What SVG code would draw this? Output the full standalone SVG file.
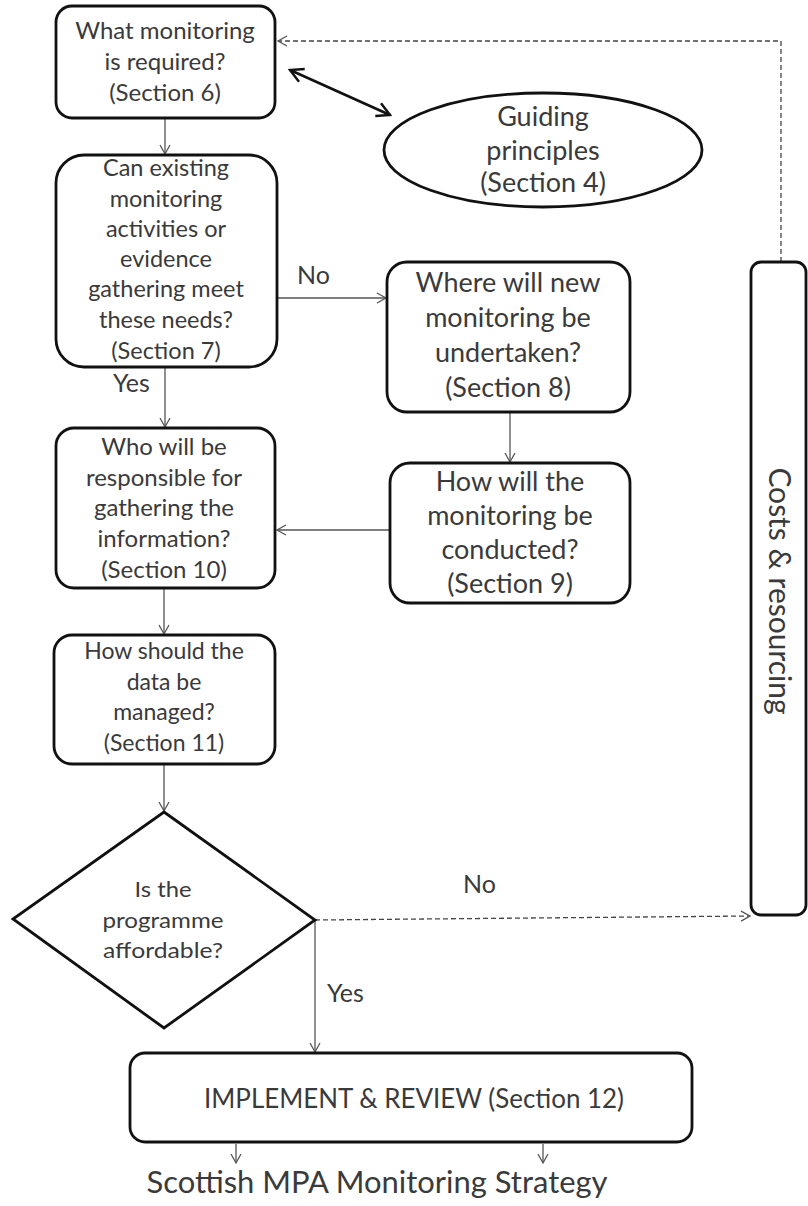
<svg xmlns="http://www.w3.org/2000/svg" width="808" height="1206" viewBox="0 0 808 1206">
<style>
.box{fill:#fff;stroke:#111;stroke-width:2.8}
.t{font-family:Lato,"Open Sans","Liberation Sans",sans-serif;font-size:24px;fill:#3a3a3a;text-anchor:middle}
.tl{font-family:Lato,"Open Sans","Liberation Sans",sans-serif;font-size:25px;fill:#3a3a3a}
.c{fill:none;stroke:#555;stroke-width:1.3}
.d{fill:none;stroke:#444;stroke-width:1.3;stroke-dasharray:5 3}
.b{fill:none;stroke:#111;stroke-width:2.6}
</style>
<defs>
<marker id="ah" markerUnits="userSpaceOnUse" markerWidth="14" markerHeight="14" refX="10" refY="6" orient="auto">
<path d="M1,1 L10,6 L1,11" fill="none" stroke="#555" stroke-width="1.3"/>
</marker>
<marker id="ahb" markerUnits="userSpaceOnUse" markerWidth="18" markerHeight="18" refX="14" refY="8" orient="auto-start-reverse">
<path d="M1,1 L14,8 L1,15" fill="none" stroke="#111" stroke-width="2.4"/>
</marker>
</defs>
<g id="connectors">
<line class="c" x1="165" y1="118" x2="165" y2="154" marker-end="url(#ah)"/>
<line class="c" x1="277" y1="298" x2="386" y2="298" marker-end="url(#ah)"/>
<line class="c" x1="165" y1="367" x2="165" y2="427" marker-end="url(#ah)"/>
<line class="c" x1="510" y1="412" x2="510" y2="462" marker-end="url(#ah)"/>
<line class="c" x1="389" y1="530" x2="277" y2="530" marker-end="url(#ah)"/>
<line class="c" x1="164" y1="588" x2="164" y2="634" marker-end="url(#ah)"/>
<line class="c" x1="164" y1="764" x2="164" y2="811" marker-end="url(#ah)"/>
<line class="c" x1="315" y1="920" x2="315" y2="1052" marker-end="url(#ah)"/>
<line class="d" x1="315" y1="920" x2="750" y2="916" marker-end="url(#ah)"/>
<polyline class="d" points="781,262 781,41 278,41" marker-end="url(#ah)"/>
<line class="b" x1="290" y1="70" x2="390" y2="115" marker-start="url(#ahb)" marker-end="url(#ahb)"/>
<line class="c" x1="236" y1="1144" x2="236" y2="1163" marker-end="url(#ah)"/>
<line class="c" x1="543" y1="1144" x2="543" y2="1163" marker-end="url(#ah)"/>
<text class="tl" x="297" y="284">No</text>
<text class="tl" x="113" y="392">Yes</text>
<text class="tl" x="463" y="893">No</text>
<text class="tl" x="327" y="1002">Yes</text>
</g>
<g id="n1">
<rect class="box" x="56" y="6" width="219" height="112" rx="16"/>
<text class="t" x="165" y="39">What monitoring</text>
<text class="t" x="165" y="70">is required?</text>
<text class="t" x="165" y="101">(Section 6)</text>
</g>
<g id="n_guiding">
<ellipse class="box" cx="543" cy="150" rx="159" ry="57"/>
<text class="t" x="543" y="126" style="font-size:27px">Guiding</text>
<text class="t" x="543" y="160" style="font-size:27px">principles</text>
<text class="t" x="543" y="192" style="font-size:27px">(Section 4)</text>
</g>
<g id="n2">
<rect class="box" x="56" y="155" width="221" height="212" rx="28"/>
<text class="t" x="166" y="176" style="font-size:23.5px">Can existing</text>
<text class="t" x="166" y="207" style="font-size:23.5px">monitoring</text>
<text class="t" x="166" y="237" style="font-size:23.5px">activities or</text>
<text class="t" x="166" y="267" style="font-size:23.5px">evidence</text>
<text class="t" x="166" y="297" style="font-size:23.5px">gathering meet</text>
<text class="t" x="166" y="328" style="font-size:23.5px">these needs?</text>
<text class="t" x="166" y="359" style="font-size:23.5px">(Section 7)</text>
</g>
<g id="n3">
<rect class="box" x="56" y="428" width="219" height="160" rx="18"/>
<text class="t" x="164" y="455">Who will be</text>
<text class="t" x="164" y="486">responsible for</text>
<text class="t" x="164" y="516">gathering the</text>
<text class="t" x="164" y="547">information?</text>
<text class="t" x="164" y="578">(Section 10)</text>
</g>
<g id="n4">
<rect class="box" x="54" y="635" width="221" height="129" rx="18"/>
<text class="t" x="164" y="659" style="font-size:23px">How should the</text>
<text class="t" x="164" y="690" style="font-size:23px">data be</text>
<text class="t" x="164" y="720" style="font-size:23px">managed?</text>
<text class="t" x="164" y="751" style="font-size:23px">(Section 11)</text>
</g>
<g id="n5">
<rect class="box" x="387" y="262" width="243" height="150" rx="20"/>
<text class="t" x="508" y="292" style="font-size:27px">Where will new</text>
<text class="t" x="508" y="327" style="font-size:27px">monitoring be</text>
<text class="t" x="508" y="362" style="font-size:27px">undertaken?</text>
<text class="t" x="508" y="397" style="font-size:27px">(Section 8)</text>
</g>
<g id="n6">
<rect class="box" x="390" y="463" width="240" height="140" rx="20"/>
<text class="t" x="510" y="491" style="font-size:27px">How will the</text>
<text class="t" x="510" y="525" style="font-size:27px">monitoring be</text>
<text class="t" x="510" y="559" style="font-size:27px">conducted?</text>
<text class="t" x="510" y="593" style="font-size:27px">(Section 9)</text>
</g>
<g id="n_costs">
<rect class="box" x="751" y="262" width="55" height="653" rx="10"/>
<text class="t" transform="translate(769,591) rotate(90)" style="font-size:30px">Costs &amp; resourcing</text>
</g>
<g id="n_decision">
<polygon class="box" points="164,812 315,920 164,1028 13,919"/>
<text class="t" x="163" y="897" style="font-size:22px" textLength="57" lengthAdjust="spacingAndGlyphs">Is the</text>
<text class="t" x="163" y="928" style="font-size:22px" textLength="121" lengthAdjust="spacingAndGlyphs">programme</text>
<text class="t" x="163" y="958" style="font-size:22px" textLength="120" lengthAdjust="spacingAndGlyphs">affordable?</text>
</g>
<g id="n_implement">
<rect class="box" x="130" y="1053" width="562" height="89" rx="15"/>
<text class="t" x="414" y="1108" style="font-size:26px" textLength="420" lengthAdjust="spacingAndGlyphs">IMPLEMENT &amp; REVIEW  (Section 12)</text>
</g>
<g id="n_strategy">
<text class="t" x="377" y="1193" style="font-size:31px" textLength="461" lengthAdjust="spacingAndGlyphs">Scottish MPA Monitoring Strategy</text>
</g>
</svg>
